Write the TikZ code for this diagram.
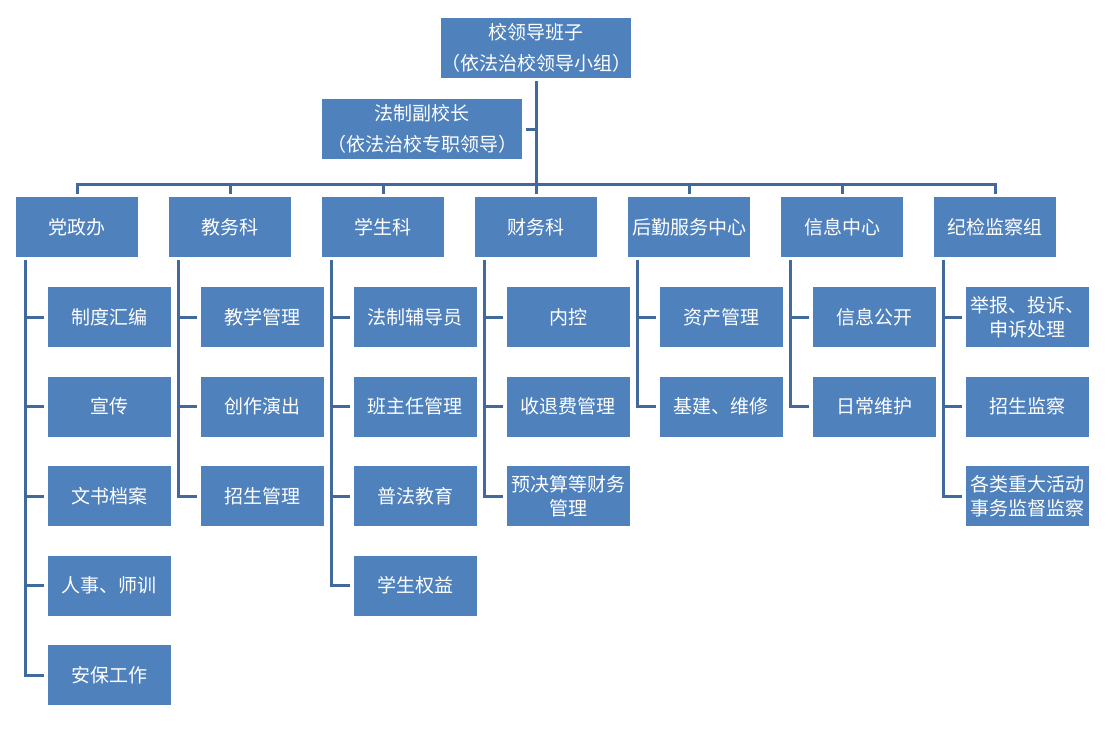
\documentclass[tikz,border=0pt]{standalone}
\usepackage{fontspec}
\newfontfamily\cjk{Noto Sans CJK SC}
\usetikzlibrary{positioning}
\definecolor{boxblue}{HTML}{4F81BD}
\definecolor{linkblue}{HTML}{41699C}

\begin{document}
\begin{tikzpicture}[x=1pt, y=1pt, node distance=153pt, on grid,
   box/.style={fill=boxblue, text=white, minimum width=122pt, minimum height=60pt,
     inner sep=0pt, align=center, font=\cjk\fontsize{19}{31}\selectfont},
   sub/.style={box, minimum width=123pt, font=\cjk\fontsize{19}{24}\selectfont},
   link/.style={draw=linkblue, line width=3pt}]

   \useasboundingbox (0,0) rectangle (1110,-731);

   \node[box, minimum width=184pt] (lead) at (536,-48) {校领导班子\\（依法治校领导小组）};
   \node[box, minimum width=200pt] (vice) [below left=81pt and 114pt of lead] {法制副校长\\（依法治校专职领导）};

   % departments
   \node[box] (cw) [below=179pt of lead] {财务科};
   \node[box] (xs) [left=of cw] {学生科};
   \node[box] (jw) [left=of xs] {教务科};
   \node[box] (dz) [left=of jw] {党政办};
   \node[box] (hq) [right=of cw] {后勤服务中心};
   \node[box] (xx) [right=of hq] {信息中心};
   \node[box] (jj) [right=of xx] {纪检监察组};

   \node[sub] (dz1) [below right=90pt and 32pt of dz] {制度汇编};
   \node[sub] (dz2) [below=89.5pt of dz1] {宣传};
   \node[sub] (dz3) [below=89.5pt of dz2] {文书档案};
   \node[sub] (dz4) [below=89.5pt of dz3] {人事、师训};
   \node[sub] (dz5) [below=89.5pt of dz4] {安保工作};

   \node[sub] (jw1) [below right=90pt and 32pt of jw] {教学管理};
   \node[sub] (jw2) [below=89.5pt of jw1] {创作演出};
   \node[sub] (jw3) [below=89.5pt of jw2] {招生管理};

   \node[sub] (xs1) [below right=90pt and 32pt of xs] {法制辅导员};
   \node[sub] (xs2) [below=89.5pt of xs1] {班主任管理};
   \node[sub] (xs3) [below=89.5pt of xs2] {普法教育};
   \node[sub] (xs4) [below=89.5pt of xs3] {学生权益};

   \node[sub] (cw1) [below right=90pt and 32pt of cw] {内控};
   \node[sub] (cw2) [below=89.5pt of cw1] {收退费管理};
   \node[sub] (cw3) [below=89.5pt of cw2] {预决算等财务\\管理};

   \node[sub] (hq1) [below right=90pt and 32pt of hq] {资产管理};
   \node[sub] (hq2) [below=89.5pt of hq1] {基建、维修};

   \node[sub] (xx1) [below right=90pt and 32pt of xx] {信息公开};
   \node[sub] (xx2) [below=89.5pt of xx1] {日常维护};

   \node[sub] (jj1) [below right=90pt and 32pt of jj] {举报、投诉、\\申诉处理};
   \node[sub] (jj2) [below=89.5pt of jj1] {招生监察};
   \node[sub] (jj3) [below=89.5pt of jj2] {各类重大活动\\事务监督监察};

   % connectors
   \draw[link, shorten <=3pt, shorten >=3pt] (lead.south) -- (cw.north);
   \draw[link, shorten <=4pt] (vice.east) -- (vice.east -| lead.south);
   \draw[link] ([yshift=3pt]dz.north) |- ([yshift=12pt]jj.north) -- ([yshift=3pt]jj.north);
   \foreach \d in {jw,xs,hq,xx}
     \draw[link] ([yshift=12pt]\d.north) -- ([yshift=3pt]\d.north);

   \foreach \d/\n in {dz/5,jw/3,xs/4,cw/3,hq/2,xx/2,jj/3} {
     \coordinate (t\d) at ([xshift=10pt,yshift=-3pt]\d.south west);
     \draw[link] (t\d) |- ([xshift=-3pt]\d\n.west);
     \foreach \i in {1,...,\n}
       \draw[link] (t\d |- \d\i.west) -- ([xshift=-3pt]\d\i.west);
   }

\end{tikzpicture}
\end{document}
